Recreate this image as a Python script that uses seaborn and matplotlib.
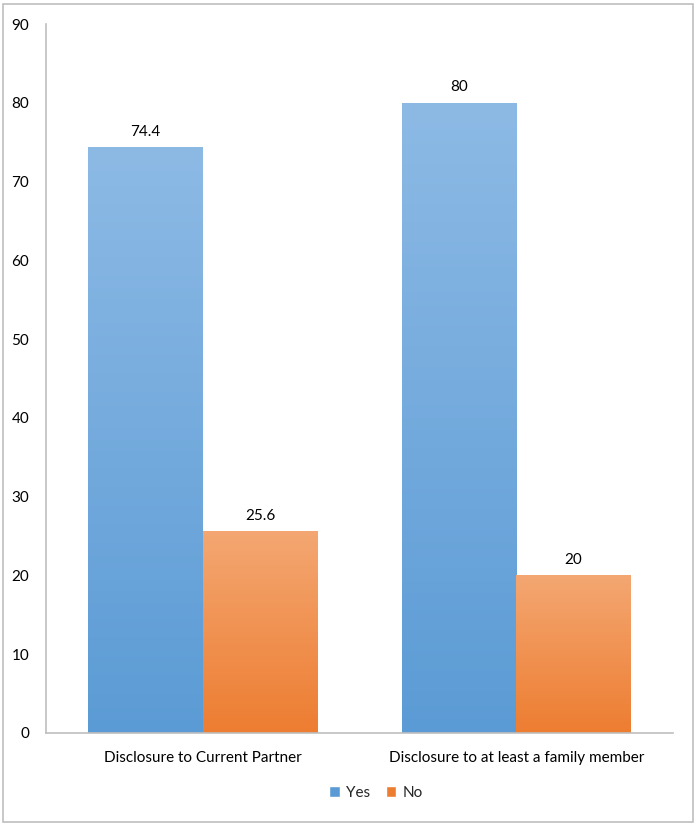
import numpy as np
import pandas as pd
import matplotlib
matplotlib.use("Agg")
import matplotlib.pyplot as plt
import seaborn as sns
from matplotlib.patches import Patch, Rectangle
from matplotlib.colors import LinearSegmentedColormap

categories = ["Disclosure to Current Partner", "Disclosure to at least a family member"]
responses = ["Yes", "No"]
yes_values = [74.4, 80]
no_values = [25.6, 20]
y_ticks = [0, 10, 20, 30, 40, 50, 60, 70, 80, 90]

df = pd.DataFrame({
    "category": categories * 2,
    "response": ["Yes"] * len(categories) + ["No"] * len(categories),
    "value": yes_values + no_values,
})

sns.set_theme(style="white")
plt.rcParams["font.family"] = ["Lato", "DejaVu Sans"]

base_colors = {"Yes": "#5B9BD5", "No": "#ED7D31"}
top_colors = {"Yes": "#8DBAE5", "No": "#F4A772"}

W, H = 697, 825
fig = plt.figure(figsize=(W / 100, H / 100), dpi=100)
ax = fig.add_axes([46 / W, 1 - 733 / H, (673 - 46) / W, (733 - 24) / H])

sns.barplot(data=df, x="category", y="value", hue="response", hue_order=responses,
            palette=base_colors, width=0.73, gap=0, ax=ax, legend=False,
            saturation=1, linewidth=0)

# gradient fill for each bar, drawn over the bar's own geometry
for container, resp in zip(ax.containers, responses):
    cmap = LinearSegmentedColormap.from_list(resp, [base_colors[resp], top_colors[resp]])
    for bar in container:
        x0, w, h = bar.get_x(), bar.get_width(), bar.get_height()
        grad = np.linspace(0, 1, 256).reshape(-1, 1)
        im = ax.imshow(grad, extent=(x0, x0 + w, 0, h), origin="lower",
                       cmap=cmap, aspect="auto", zorder=bar.get_zorder())
        im.set_clip_path(bar)
        bar.set_facecolor("none")
    ax.bar_label(container, labels=[f"{v:g}" for v in container.datavalues],
                 padding=6, fontsize=11, color="#000000")

ax.set_xlim(-0.5, 1.5)
ax.set_ylim(0, 90)
ax.set_yticks(y_ticks)
ax.set_xlabel("")
ax.set_ylabel("")
for s in ["top", "right"]:
    ax.spines[s].set_visible(False)
for s in ["left", "bottom"]:
    ax.spines[s].set_color("#BFBFBF")
    ax.spines[s].set_linewidth(1.2)
ax.tick_params(axis="both", length=0, labelsize=11, labelcolor="#000000")
ax.tick_params(axis="y", pad=12)
ax.tick_params(axis="x", pad=13)

handles = [Patch(facecolor=base_colors[r], label=r) for r in responses]
fig.legend(handles=handles, loc="center", bbox_to_anchor=(376 / W, 1 - 793 / H),
           ncol=2, frameon=False, fontsize=11, handlelength=0.7, handleheight=0.7,
           handletextpad=0.4, columnspacing=1.0)

fig.patches.append(Rectangle((3 / W, 3 / H), (W - 7) / W, (H - 7) / H,
                             transform=fig.transFigure, fill=False,
                             edgecolor="#BFBFBF", linewidth=1.2))

fig.savefig("out.png", dpi=100)
